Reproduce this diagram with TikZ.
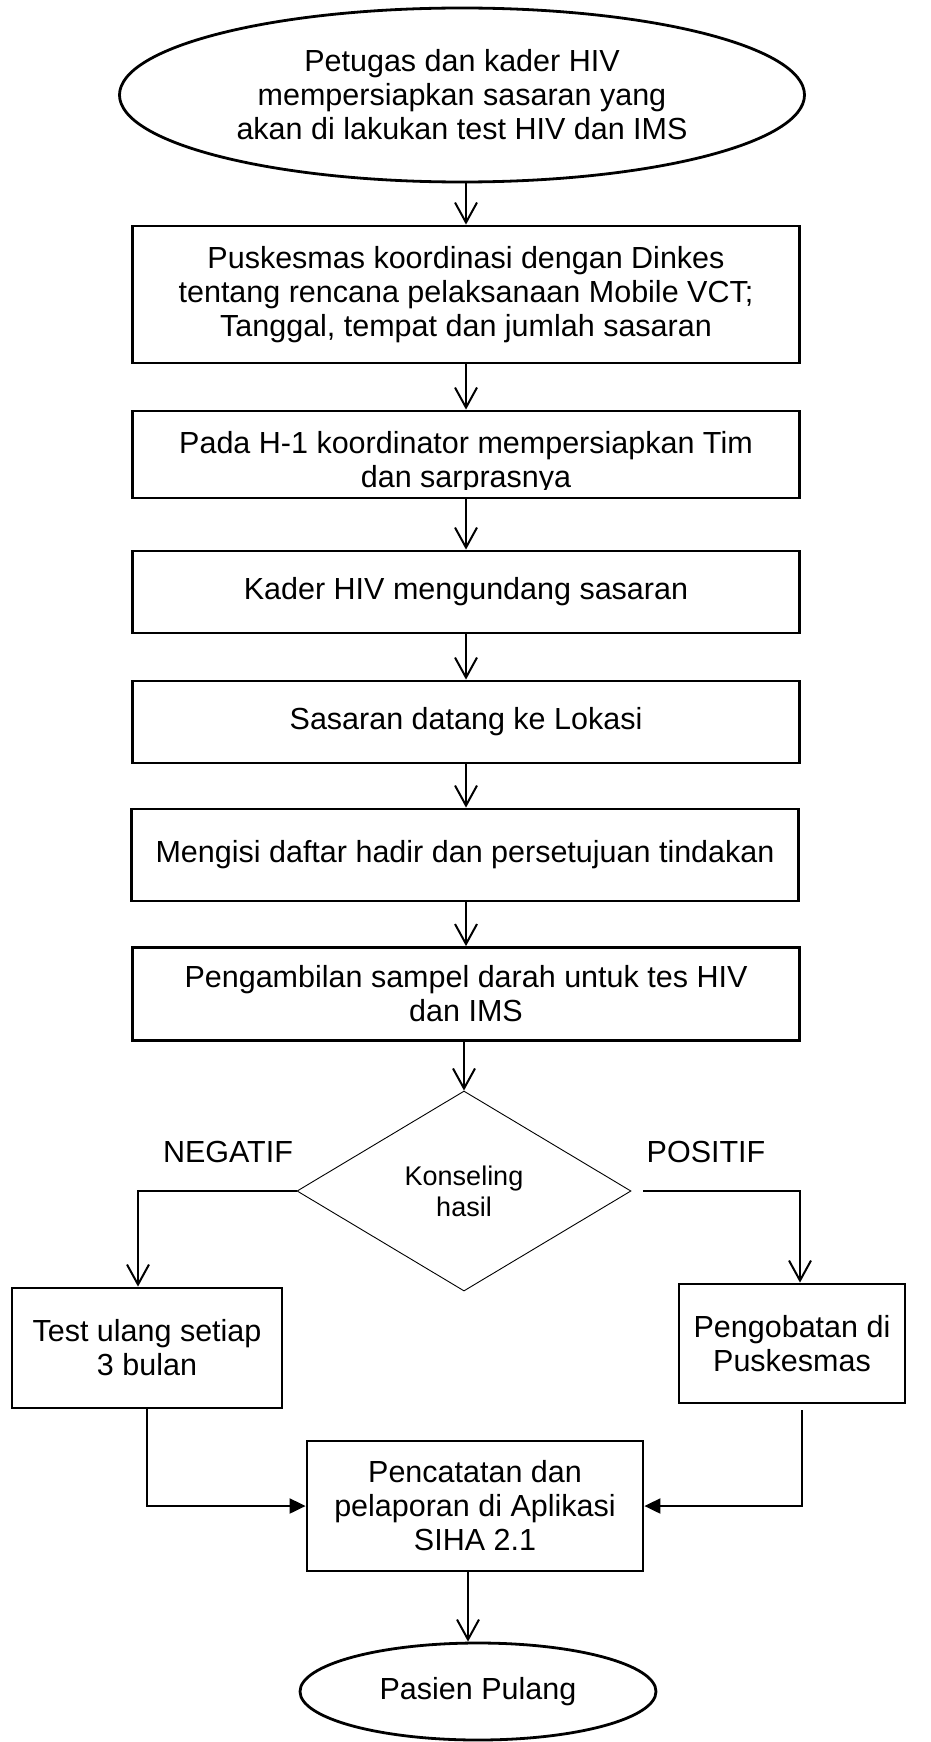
\documentclass[tikz,border=0pt]{standalone}
\usepackage{fontspec}
\setmainfont{Liberation Sans}
\usetikzlibrary{shapes.geometric,arrows.meta}

\tikzset{
	procbox/.style={draw,line width=2.8pt,inner sep=0pt,align=center},
	term/.style={ellipse,draw,line width=2.8pt,inner sep=0pt,align=center},
	decide/.style={diamond,draw,line width=0.9pt,inner sep=0pt,align=center,font=\fontsize{27}{31}\selectfont},
	flow/.style={-{Straight Barb[length=20pt,width=22pt]},line width=2pt},
	merge/.style={-{Triangle[length=16pt,width=15pt]},line width=2pt}
}

\begin{document}
\begin{tikzpicture}[x=1pt,y=-1pt,font=\fontsize{30.5}{34}\selectfont]
	\useasboundingbox (0,0) rectangle (931,1742);

	\node[term,minimum width=685pt,minimum height=174pt] (e1) at (462,95)
		{Petugas dan kader HIV\\mempersiapkan sasaran yang\\akan di lakukan test HIV dan IMS};
	\node[procbox,minimum width=667pt,minimum height=137pt] (b1) at (466,294.5)
		{Puskesmas koordinasi dengan Dinkes\\tentang rencana pelaksanaan Mobile VCT;\\Tanggal, tempat dan jumlah sasaran};
	\node[procbox,minimum width=667pt,minimum height=87pt] (b2) at (466,454.5) {};
	\begin{scope}
		\clip (b2.north west) rectangle ([yshift=9.5pt]b2.south east);
		\node[align=center,inner sep=0pt] (t2) at (466,463) {Pada H-1 koordinator mempersiapkan Tim\\dan sarprasnya};
	\end{scope}
	\node[procbox,minimum width=667pt,minimum height=82pt] (b3) at (466,592) {Kader HIV mengundang sasaran};
	\node[procbox,minimum width=667pt,minimum height=82pt] (b4) at (466,722) {Sasaran datang ke Lokasi};
	\node[procbox,minimum width=667pt,minimum height=92pt] (b5) at (465,855) {Mengisi daftar hadir dan persetujuan tindakan};
	\node[procbox,minimum width=667pt,minimum height=93pt] (b6) at (466,994)
		{Pengambilan sampel darah untuk tes HIV\\dan IMS};
	\node[decide,minimum width=334pt,minimum height=200pt] (d) at (464,1191) {Konseling\\hasil};
	\node (neg) at (228,1152) {NEGATIF};
	\node (pos) at (706,1152) {POSITIF};
	\node[procbox,minimum width=270pt,minimum height=120pt] (bL) at (147,1348) {Test ulang setiap\\3 bulan};
	\node[procbox,minimum width=226pt,minimum height=119pt] (bR) at (792,1343.5) {Pengobatan di\\Puskesmas};
	\node[procbox,minimum width=336pt,minimum height=130pt] (b7) at (475,1506)
		{Pencatatan dan\\pelaporan di Aplikasi\\SIHA 2.1};
	\node[term,minimum width=356pt,minimum height=97pt] (e2) at (478,1691.5) {Pasien Pulang};

	\draw[flow] (b1.north |- e1.south) -- (b1.north);
	\draw[flow] (b1) -- (b2);
	\draw[flow] (b2) -- (b3);
	\draw[flow] (b3) -- (b4);
	\draw[flow] (b4) -- (b5.north -| b4.south);
	\draw[flow] (b5.south -| b6.north) -- (b6);
	\draw[flow] (d.north |- b6.south) -- (d.north);
	\draw[flow] (d.west) -| ([xshift=-9pt]bL.north);
	\draw[flow,shorten <=12pt] (d.east) -| ([xshift=8pt]bR.north);
	\draw[merge] (bL.south) |- (b7.west);
	\draw[merge,shorten <=6pt] ([xshift=10pt]bR.south) |- (b7.east);
	\draw[flow] ([xshift=-7pt]b7.south) -- ([xshift=-7pt]b7.south |- e2.north);
\end{tikzpicture}
\end{document}
